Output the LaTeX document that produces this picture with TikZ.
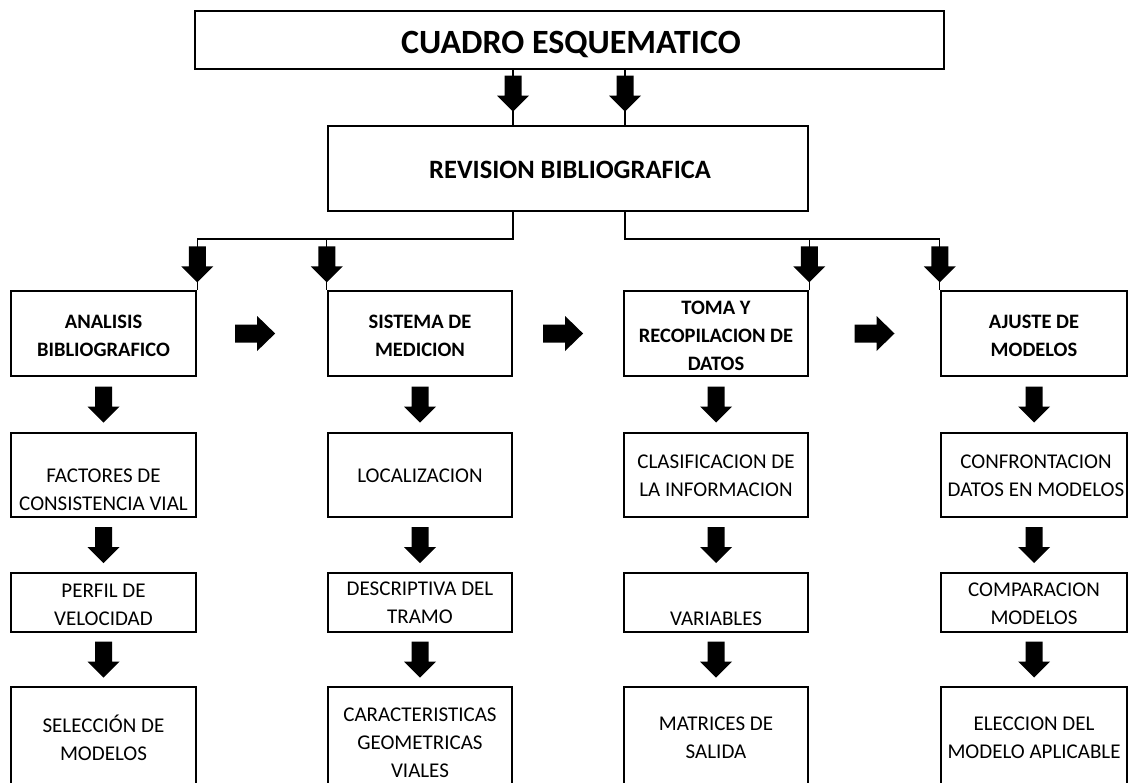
\documentclass[tikz,border=0pt]{standalone}
\usepackage{fontspec}
\setmainfont{Carlito}
\usetikzlibrary{calc}
\tikzset{
  box/.style={draw, line width=2.5pt, rectangle, inner sep=0pt},
  conn/.style={line width=1.2pt},
  txt/.style={align=center, inner sep=0pt, font=\fontsize{21}{28}\selectfont},
  btxt/.style={align=center, inner sep=0pt, font=\fontsize{20.5}{28}\selectfont\bfseries},
  dar/.pic={\fill (-8.5,-18) -- (8.5,-18) -- (8.5,2) -- (16,2) -- (0,18) -- (-16,2) -- (-8.5,2) -- cycle;},
  rar/.pic={\fill (-20,-9) -- (2,-9) -- (2,-17.5) -- (20,0) -- (2,17.5) -- (2,9) -- (-20,9) -- cycle;},
}
\begin{document}
\begin{tikzpicture}[x=1pt,y=-1pt]
\useasboundingbox (0,0) rectangle (1129,782);
\clip (0,0) rectangle (1129,782);
% boxes
\node[box, minimum width=749pt, minimum height=58pt] (top) at (569.5,40) {};
\node[box, minimum width=480pt, minimum height=85pt] (rev) at (568,168.5) {};
\foreach \c/\x/\w in {a/103.5/185, b/420/184, c/716/184, d/1034/186}{
  \node[box, minimum width=\w pt, minimum height=85pt] (\c1) at (\x,333.5) {};
  \node[box, minimum width=\w pt, minimum height=84pt] (\c2) at (\x,475) {};
  \node[box, minimum width=\w pt, minimum height=59pt] (\c3) at (\x,602.5) {};
  \node[box, minimum width=\w pt, minimum height=113pt] (\c4) at (\x,743.5) {};
}
% texts
\node[font=\fontsize{34}{40}\selectfont\bfseries, inner sep=0pt, text depth=0pt] (ttop) at ($(top.center)+(1.5,2)$) {CUADRO ESQUEMATICO};
\node[font=\fontsize{26.5}{32}\selectfont\bfseries, inner sep=0pt, text depth=0pt] (trev) at ($(rev.center)+(2,1.5)$) {REVISION BIBLIOGRAFICA};
\node[btxt] (ta1) at ($(a1.center)+(0,2.5)$) {ANALISIS\\BIBLIOGRAFICO};
\node[btxt] (tb1) at ($(b1.center)+(0,2.5)$) {SISTEMA DE\\MEDICION};
\node[btxt] (tc1) at ($(c1.center)+(0,2.5)$) {TOMA Y\\RECOPILACION DE\\DATOS};
\node[btxt] (td1) at ($(d1.center)+(0,2.5)$) {AJUSTE DE\\MODELOS};
\node[txt] (ta2) at ($(a2.center)+(0,15)$) {FACTORES DE\\CONSISTENCIA VIAL};
\node[txt] (tb2) at ($(b2.center)+(0,1)$) {LOCALIZACION};
\node[txt] (tc2) at ($(c2.center)+(0,1)$) {CLASIFICACION DE\\LA INFORMACION};
\node[txt] (td2) at ($(d2.center)+(2,1)$) {CONFRONTACION\\DATOS EN MODELOS};
\node[txt] (ta3) at ($(a3.center)+(0,2.5)$) {PERFIL DE\\VELOCIDAD};
\node[txt] (tb3) at ($(b3.center)+(0,0.5)$) {DESCRIPTIVA DEL\\TRAMO};
\node[txt] (tc3) at ($(c3.center)+(0,16.5)$) {VARIABLES};
\node[txt] (td3) at ($(d3.center)+(0,1.5)$) {COMPARACION\\MODELOS};
\node[txt] (ta4) at ($(a4.center)+(0,-5.5)$) {SELECCIÓN DE\\MODELOS};
\node[txt] (tb4) at ($(b4.center)+(0,-1)$) {CARACTERISTICAS\\GEOMETRICAS\\VIALES};
\node[txt] (tc4) at ($(c4.center)+(0,-5.5)$) {MATRICES DE\\SALIDA};
\node[txt] (td4) at ($(d4.center)+(0,-5.5)$) {ELECCION DEL\\MODELO APLICABLE};
% thin connectors
\coordinate (j1) at (513,239);
\coordinate (j2) at (625,239);
\draw[conn] (top.south -| j1) -- (rev.north -| j1);
\draw[conn] (top.south -| j2) -- (rev.north -| j2);
\draw[conn] (rev.south -| j1) -- (j1) -| (a1.north east);
\draw[conn] (j1 -| b1.north west) -- (b1.north west);
\draw[conn] (rev.south -| j2) -- (j2) -| (d1.north west);
\draw[conn] (j2 -| c1.north east) -- (c1.north east);
% block arrows
\pic at ($(top.south -| j1)!0.43!(rev.north -| j1)$) {dar};
\pic at ($(top.south -| j2)!0.43!(rev.north -| j2)$) {dar};
\pic at ($(j1 -| a1.north east)!0.5!(a1.north east)$) {dar};
\pic at ($(j1 -| b1.north west)!0.5!(b1.north west)$) {dar};
\pic at ($(j2 -| c1.north east)!0.5!(c1.north east)$) {dar};
\pic at ($(j2 -| d1.north west)!0.5!(d1.north west)$) {dar};
\foreach \c in {a,b,c,d}{
  \pic at ($(\c1.south)!0.5!(\c2.north)$) {dar};
  \pic at ($(\c2.south)!0.5!(\c3.north)$) {dar};
  \pic at ($(\c3.south)!0.5!(\c4.north)$) {dar};
}
\pic at ($(a1.east)!0.447!(b1.west)$) {rar};
\pic at ($(b1.east)!0.455!(c1.west)$) {rar};
\pic at ($(c1.east)!0.5!(d1.west)$) {rar};
\end{tikzpicture}
\end{document}
